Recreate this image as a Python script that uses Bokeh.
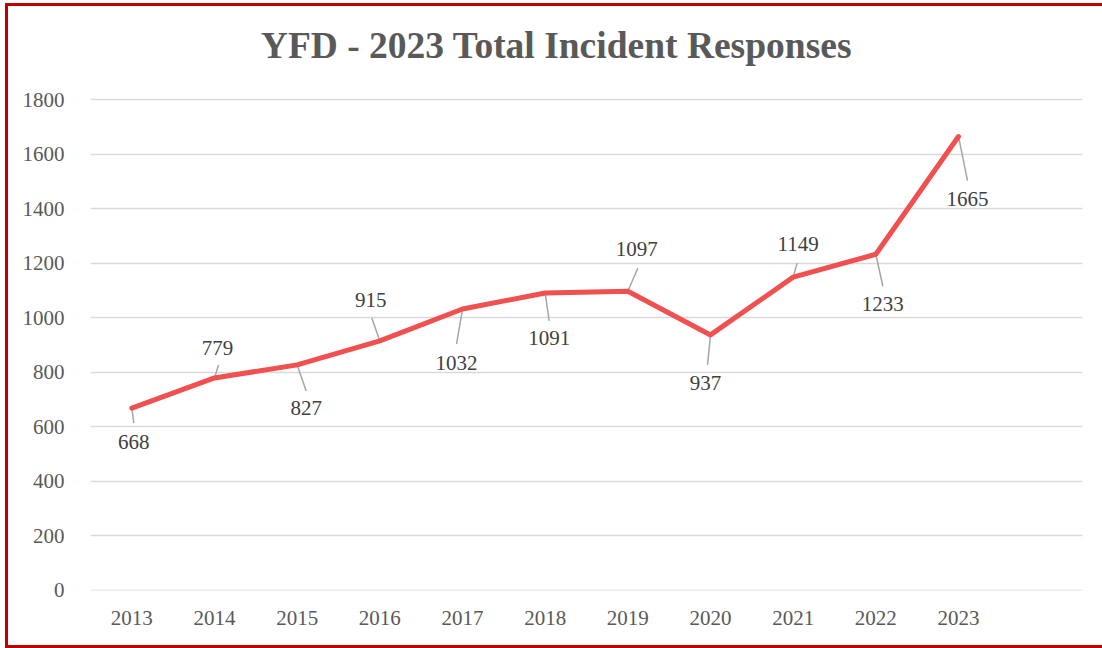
from bokeh.plotting import figure
from bokeh.layouts import column
from bokeh.models import FixedTicker, ColumnDataSource, Label
from bokeh.core.properties import value
from bokeh.embed import file_html
from bokeh.resources import INLINE

years = [2013, 2014, 2015, 2016, 2017, 2018, 2019, 2020, 2021, 2022, 2023]
responses = [668, 779, 827, 915, 1032, 1091, 1097, 937, 1149, 1233, 1665]
y_ticks = [0, 200, 400, 600, 800, 1000, 1200, 1400, 1600, 1800]
title_text = "YFD - 2023 Total Incident Responses"

# label placement (style): pixel offsets of label centre and leader-line end
lab_dx = [2, 3, 9, -9, -6, 4, 9, -5, 5, 7, 9]
lab_dy = [34, -30, 43, -41, 54, 45, -42, 48, -33, 50, 62]
lead_dx = [2, 4, 9, -8, -6, 4, 10, -3, 4, 7, 9]
lead_dy = [15, -13, 26, -23, 35, 28, -23, 30, -14, 32, 44]

W, H = 1094, 639
ML, MR, MB = 82, 20, 55
GAP_TOP = 93          # pixels between canvas top and the 1800 gridline
x0, x1 = 2012.5, 2024.5
y0, ymax = -1, 1801
fw = W - ML - MR
fh = H - MB
px_x = (x1 - x0) / fw
px_y = (ymax - y0) / (fh - GAP_TOP)
y1 = ymax + GAP_TOP * px_y

FONT = "Liberation Serif"

fig = figure(width=W, height=H, output_backend="svg", toolbar_location=None,
             x_range=(x0, x1), y_range=(y0, y1),
             min_border_left=ML, min_border_right=MR, min_border_top=0, min_border_bottom=MB)
fig.title = None

fig.add_layout(Label(x=466, y=545, x_units="screen", y_units="screen", text=title_text,
                     text_align="center", text_baseline="alphabetic",
                     text_font=FONT, text_font_size="37.5px", text_font_style="bold",
                     text_color="#595959"))

fig.outline_line_color = None
fig.background_fill_color = "white"
fig.border_fill_color = "white"

fig.xgrid.grid_line_color = None
fig.ygrid.grid_line_color = "#D9D9D9"
fig.ygrid.grid_line_width = 1.5
fig.yaxis.ticker = FixedTicker(ticks=y_ticks)
fig.xaxis.ticker = FixedTicker(ticks=years)
fig.xaxis.major_label_overrides = {y: str(y) for y in years}
fig.yaxis.major_label_overrides = {v: str(v) for v in y_ticks}
for ax in (fig.xaxis, fig.yaxis):
    ax.axis_line_color = None
    ax.major_tick_line_color = None
    ax.minor_tick_line_color = None
    ax.major_label_text_font = FONT
    ax.major_label_text_font_size = "21px"
    ax.major_label_text_color = "#595959"
fig.yaxis.major_label_standoff = 20
fig.xaxis.major_label_standoff = 14

src = ColumnDataSource(dict(
    x=years, y=responses,
    lx=[x + d * px_x for x, d in zip(years, lead_dx)],
    ly=[y - d * px_y for y, d in zip(responses, lead_dy)],
    dx=lab_dx, dy=lab_dy,
    txt=[str(v) for v in responses],
))

fig.segment(x0="x", y0="y", x1="lx", y1="ly", source=src, line_color="#A6A6A6", line_width=1.5)
fig.line("x", "y", source=src, line_color="#F05050", line_width=5, line_join="round", line_cap="round")
fig.text(x="x", y="y", text="txt", x_offset="dx", y_offset="dy", source=src,
         text_align="center", text_baseline="middle", text_font=value(FONT),
         text_font_size="21px", text_color="#404040")

RED = "#C00000"
p = column(fig, styles={"margin-left": "8px", "margin-top": "6px",
                        "box-shadow": f"-3px 0 0 0 {RED}, 0 -3px 0 0 {RED}, 0 3px 0 0 {RED}, -3px -3px 0 0 {RED}, -3px 3px 0 0 {RED}"})

open("out.html", "w").write(file_html(p, INLINE))
